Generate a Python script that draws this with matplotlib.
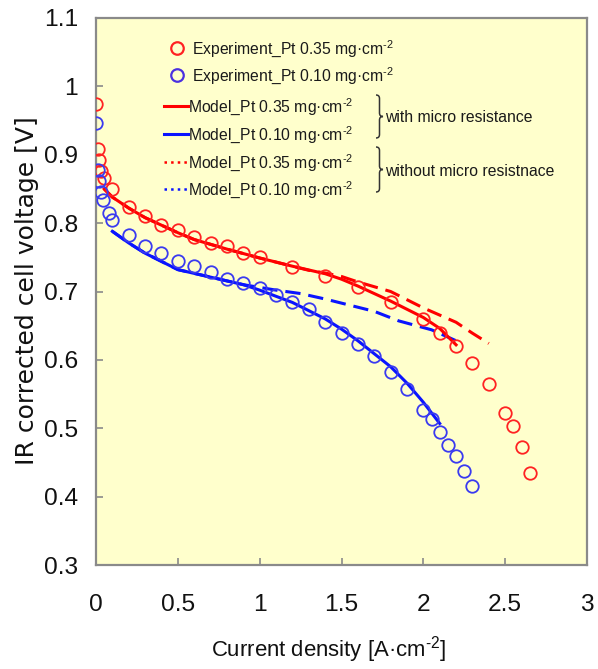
import matplotlib
matplotlib.use("Agg")
import matplotlib.pyplot as plt
from matplotlib import font_manager as fm
from matplotlib.path import Path
from matplotlib.patches import PathPatch
from matplotlib.lines import Line2D
from matplotlib.ticker import FuncFormatter

# ---------------- data ----------------
exp_x_035 = [0.0, 0.01, 0.02, 0.03, 0.05, 0.1, 0.2, 0.3, 0.4, 0.5, 0.6, 0.7, 0.8, 0.9, 1.0,
             1.2, 1.4, 1.6, 1.8, 2.0, 2.1, 2.2, 2.3, 2.4, 2.5, 2.55, 2.6, 2.65]
exp_v_035 = [0.974, 0.908, 0.893, 0.876, 0.866, 0.850, 0.824, 0.811, 0.797, 0.790, 0.780, 0.771,
             0.766, 0.756, 0.750, 0.736, 0.723, 0.707, 0.685, 0.660, 0.640, 0.620, 0.596, 0.565,
             0.522, 0.503, 0.473, 0.434]

exp_x_010 = [0.0, 0.01, 0.02, 0.03, 0.04, 0.08, 0.1, 0.2, 0.3, 0.4, 0.5, 0.6, 0.7, 0.8, 0.9, 1.0,
             1.1, 1.2, 1.3, 1.4, 1.5, 1.6, 1.7, 1.8, 1.9, 2.0, 2.05, 2.1, 2.15, 2.2, 2.25, 2.3]
exp_v_010 = [0.946, 0.878, 0.861, 0.846, 0.834, 0.815, 0.805, 0.783, 0.767, 0.756, 0.744, 0.737,
             0.729, 0.719, 0.713, 0.705, 0.695, 0.685, 0.674, 0.656, 0.640, 0.623, 0.605, 0.582,
             0.557, 0.527, 0.513, 0.495, 0.476, 0.460, 0.438, 0.415]

mod_x_035 = [0.05, 0.1, 0.2, 0.3, 0.4, 0.5, 0.6, 0.8, 1.0, 1.2, 1.4, 1.5, 1.6, 1.8, 2.0, 2.1, 2.2]
mod_v_035 = [0.850, 0.838, 0.822, 0.808, 0.797, 0.786, 0.776, 0.762, 0.749, 0.737, 0.726, 0.718,
             0.708, 0.686, 0.662, 0.646, 0.622]

nomr_x_035 = [0.05, 0.1, 0.2, 0.3, 0.4, 0.5, 0.6, 0.8, 1.0, 1.2, 1.3, 1.4, 1.5, 1.6, 1.8, 2.0, 2.2, 2.3, 2.4]
nomr_v_035 = [0.850, 0.838, 0.822, 0.808, 0.797, 0.786, 0.776, 0.762, 0.749, 0.737, 0.731, 0.727,
              0.722, 0.714, 0.700, 0.676, 0.655, 0.639, 0.624]

mod_x_010 = [0.1, 0.2, 0.3, 0.5, 0.7, 0.9, 1.0, 1.2, 1.4, 1.5, 1.6, 1.8, 1.9, 2.0, 2.1]
mod_v_010 = [0.788, 0.771, 0.756, 0.732, 0.721, 0.710, 0.702, 0.684, 0.660, 0.645, 0.628, 0.590,
             0.566, 0.538, 0.507]

nomr_x_010 = [0.1, 0.2, 0.3, 0.5, 0.7, 0.9, 1.0, 1.1, 1.25, 1.4, 1.55, 1.7, 1.85, 2.05, 2.2]
nomr_v_010 = [0.788, 0.771, 0.756, 0.732, 0.721, 0.710, 0.706, 0.702, 0.697, 0.689, 0.680, 0.671,
              0.657, 0.644, 0.628]

x_ticks = [0, 0.5, 1, 1.5, 2, 2.5, 3]
y_ticks = [0.3, 0.4, 0.5, 0.6, 0.7, 0.8, 0.9, 1.0, 1.1]

SUP = r"$^{\text{-2}}$"
legend_exp = ["Experiment_Pt 0.35 mg\u00b7cm" + SUP, "Experiment_Pt 0.10 mg\u00b7cm" + SUP]
legend_mod = ["Model_Pt 0.35 mg\u00b7cm" + SUP, "Model_Pt 0.10 mg\u00b7cm" + SUP,
              "Model_Pt 0.35 mg\u00b7cm" + SUP, "Model_Pt 0.10 mg\u00b7cm" + SUP]
group_labels = ["with micro resistance", "without micro resistnace"]
x_label = "Current density [A\u00b7cm" + SUP + "]"
y_label = "IR corrected cell voltage [V]"

# ---------------- fonts ----------------
def has_font(name):
    try:
        fm.findfont(fm.FontProperties(family=name), fallback_to_default=False)
        return True
    except Exception:
        return False

if has_font("Liberation Sans Narrow"):
    NARROW = "Liberation Sans Narrow"
    sc = 1.0
else:
    NARROW = "Liberation Sans"
    sc = 0.84

plt.rcParams["font.family"] = [NARROW, "DejaVu Sans"]
plt.rcParams["mathtext.fontset"] = "custom"
plt.rcParams["mathtext.rm"] = NARROW
plt.rcParams["mathtext.it"] = NARROW
plt.rcParams["mathtext.bf"] = NARROW
plt.rcParams["mathtext.sf"] = NARROW

RED = "#ff0000"
BLUE = "#0a14ff"
RED_C = "#ff2222"
BLUE_C = "#3a3af0"
BG = "#ffffcc"
SPINE = "#8a8a8a"

W, H = 598, 669
fig = plt.figure(figsize=(W / 100, H / 100), dpi=100)
fig.patch.set_facecolor("white")
ax = fig.add_axes([96 / W, 1 - 565 / H, 491 / W, 547 / H])
ax.set_facecolor(BG)

# model lines
ax.plot(nomr_x_035, nomr_v_035, color=RED, lw=2.2, ls=(0, (5, 2.6)), zorder=2)
ax.plot(nomr_x_010, nomr_v_010, color=BLUE, lw=2.2, ls=(0, (5, 2.6)), zorder=2)
ax.plot(mod_x_035, mod_v_035, color=RED, lw=2.2, zorder=3)
ax.plot(mod_x_010, mod_v_010, color=BLUE, lw=2.2, zorder=3)
# experiments
ax.plot(exp_x_035, exp_v_035, ls="none", marker="o", ms=9, mfc="none", mec=RED_C, mew=1.3, zorder=4)
ax.plot(exp_x_010, exp_v_010, ls="none", marker="o", ms=9, mfc="none", mec=BLUE_C, mew=1.3, zorder=4)

ax.set_xlim(0, 3)
ax.set_ylim(0.3, 1.1)
ax.set_xticks(x_ticks)
ax.set_yticks(y_ticks)
fmt = FuncFormatter(lambda v, p: ("%g" % round(v, 2)))
ax.xaxis.set_major_formatter(fmt)
ax.yaxis.set_major_formatter(fmt)
for s in ax.spines.values():
    s.set_color(SPINE)
    s.set_linewidth(1.6)
ax.tick_params(axis="both", direction="in", length=5, width=1.2, color=SPINE,
               labelsize=21 * sc, labelcolor="#111111")
ax.tick_params(axis="x", pad=21)
ax.tick_params(axis="y", pad=13)

ax.set_xlabel(x_label, fontsize=19 * sc, color="#111111")
ax.xaxis.set_label_coords(0.473, -0.155)
ax.xaxis.label.set_va("center")
ax.set_ylabel(y_label, fontsize=18, family=["DejaVu Sans"], color="#111111")
ax.yaxis.set_label_coords((27 - 96) / 491, (565 - 291) / 547)
ax.yaxis.label.set_va("center")

# ---------------- legend (drawn by hand) ----------------
def fx(px):
    return px / W

def fy(py):
    return 1 - py / H

tf = fig.transFigure
LFS = 13.5 * sc
exp_rows = [(48, RED_C), (75, "#4a30e0")]
for (yy, col), lab in zip(exp_rows, legend_exp):
    fig.add_artist(Line2D([fx(177)], [fy(yy)], transform=tf, ls="none", marker="o", ms=9,
                          mfc="none", mec=col, mew=1.6))
    fig.text(fx(192), fy(yy + 6), lab, fontsize=LFS, va="baseline", ha="left", color="#1a1a1a")

mod_rows = [(106, RED, "-"), (134, BLUE, "-"), (162, RED, ":"), (189, BLUE, ":")]
for (yy, col, ls), lab in zip(mod_rows, legend_mod):
    fig.add_artist(Line2D([fx(164), fx(188)], [fy(yy), fy(yy)], transform=tf, color=col,
                          lw=2.2 if ls == "-" else 1.8, ls=ls))
    fig.text(fx(188), fy(yy + 6), lab, fontsize=LFS, va="baseline", ha="left", color="#1a1a1a")

def brace(x, y0, y1, w):
    ym = (y0 + y1) / 2
    pts = [(x, y0), (x + w, y0), (x + w, y0 + w), (x + w, ym - w), (x + w, ym), (x + 2 * w, ym),
           (x + w, ym), (x + w, ym + w), (x + w, y1 - w), (x + w, y1), (x, y1)]
    codes = [Path.MOVETO, Path.CURVE3, Path.CURVE3, Path.LINETO, Path.CURVE3, Path.CURVE3,
             Path.CURVE3, Path.CURVE3, Path.LINETO, Path.CURVE3, Path.CURVE3]
    verts = [(fx(a), fy(b)) for a, b in pts]
    fig.add_artist(PathPatch(Path(verts, codes), transform=tf, fill=False, ec="#333333", lw=1.1))
    return ym

for (y0, y1), lab in zip([(95, 138), (147, 192)], group_labels):
    ym = brace(376, y0, y1, 3.5)
    fig.text(fx(385), fy(ym + 6), lab, fontsize=LFS, va="baseline", ha="left", color="#1a1a1a")

fig.savefig("out.png", dpi=100, facecolor="white")
